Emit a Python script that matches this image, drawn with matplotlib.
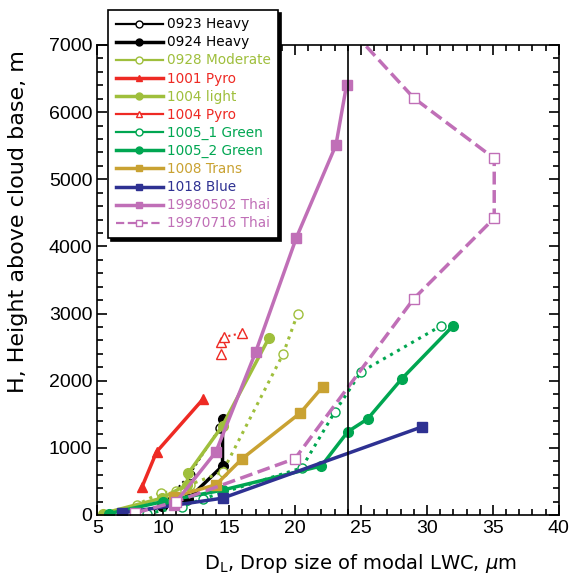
import numpy as np
import matplotlib
matplotlib.use("Agg")
import matplotlib.pyplot as plt
from matplotlib.ticker import MultipleLocator
from matplotlib.lines import Line2D

plt.rcParams['font.family'] = ['Liberation Sans', 'DejaVu Sans']
plt.rcParams['mathtext.fontset'] = 'dejavusans'

# data: drop size (um) vs height above cloud base (m)
x_0923 = [9.0, 10.0, 12.0, 14.3]
y_0923 = [50, 150, 600, 1300]
x_0924 = [9.9, 11.9, 14.5, 14.5]
y_0924 = [130, 240, 730, 1430]
x_0928 = [5.5, 8.0, 9.8, 11.0, 12.0, 14.5, 19.1, 20.2]
y_0928 = [0, 150, 330, 350, 450, 640, 2400, 3000]
x_1001 = [8.4, 9.5, 13.0]
y_1001 = [420, 940, 1720]
x_1004l = [5.4, 9.9, 11.8, 11.9, 14.5, 18.0]
y_1004l = [20, 250, 450, 620, 1330, 2630]
x_1004p = [14.4, 14.4, 14.6, 16.0]
y_1004p = [2400, 2580, 2650, 2710]
x_1005a = [8.8, 11.4, 13.0, 20.5, 23.0, 25.0, 31.1]
y_1005a = [20, 120, 240, 700, 1530, 2130, 2820]
x_1005b = [5.9, 10.0, 14.5, 22.0, 24.0, 25.5, 28.1, 32.0]
y_1005b = [20, 200, 370, 730, 1240, 1430, 2030, 2820]
x_1008 = [10.8, 14.0, 16.0, 20.4, 22.1]
y_1008 = [270, 450, 840, 1520, 1910]
x_1018 = [6.9, 14.5, 29.6]
y_1018 = [30, 250, 1310]
x_thai98 = [10.8, 14.0, 17.0, 20.1, 23.1, 23.9]
y_thai98 = [150, 940, 2420, 4130, 5510, 6400]
x_thai97 = [7.9, 11.0, 20.0, 29.0, 35.1, 35.1, 29.0, 24.6]
y_thai97 = [30, 200, 840, 3220, 4420, 5310, 6210, 7150]

k = 'black'
yg = '#9fbf3c'
red = '#ee2a24'
grn = '#00a651'
gold = '#c9a232'
navy = '#2e3192'
orch = '#c06fb7'

# (x, y, label, color, linestyle, lw, marker, filled)
series = [
    (x_0923, y_0923, '0923 Heavy', k, ':', 1.5, 'o', False),
    (x_0924, y_0924, '0924 Heavy', k, '-', 2.5, 'o', True),
    (x_0928, y_0928, '0928 Moderate', yg, ':', 2.2, 'o', False),
    (x_1001, y_1001, '1001 Pyro', red, '-', 2.5, '^', True),
    (x_1004l, y_1004l, '1004 light', yg, '-', 2.5, 'o', True),
    (x_1004p, y_1004p, '1004 Pyro', red, ':', 1.5, '^', False),
    (x_1005a, y_1005a, '1005_1 Green', grn, ':', 2.2, 'o', False),
    (x_1005b, y_1005b, '1005_2 Green', grn, '-', 2.5, 'o', True),
    (x_1008, y_1008, '1008 Trans', gold, '-', 2.5, 's', True),
    (x_1018, y_1018, '1018 Blue', navy, '-', 2.5, 's', True),
    (x_thai98, y_thai98, '19980502 Thai', orch, '-', 2.5, 's', True),
    (x_thai97, y_thai97, '19970716 Thai', orch, '--', 2.5, 's', False),
]

fig = plt.figure(figsize=(5.72, 5.76), dpi=100)
ax = fig.add_axes([0.170, 0.106, 0.807, 0.816])

handles = []
for x, y, lab, c, ls, lw, m, filled in series:
    mfc = c if filled else 'white'
    ax.plot(x, y, ls, color=c, lw=lw, marker=m, mfc=mfc, ms=7 if filled else 6.5)
    hls = '--' if ls == '--' else '-'
    handles.append(Line2D([], [], color=c, ls=hls, lw=lw if ls == '-' else 1.6,
                          marker=m, mfc=mfc, ms=5, label=lab))

ax.axvline(24, color='black', lw=1.2)

ax.set_xlim(5, 40)
ax.set_ylim(0, 7000)
ax.xaxis.set_major_locator(MultipleLocator(5))
ax.xaxis.set_minor_locator(MultipleLocator(1))
ax.yaxis.set_major_locator(MultipleLocator(1000))
ax.yaxis.set_minor_locator(MultipleLocator(200))
ax.tick_params(which='both', direction='in', top=True, right=True, labelsize=14, width=1.2)
ax.tick_params(which='major', length=7)
ax.tick_params(which='minor', length=4)
for s in ax.spines.values():
    s.set_linewidth(1.2)

ax.set_xlabel(r'D$_\mathregular{L}$, Drop size of modal LWC, $\mu$m', fontsize=14,
              family='DejaVu Sans')
ax.set_ylabel('H, Height above cloud base, m', fontsize=16, family='DejaVu Sans')
ax.xaxis.set_label_coords(0.571, -0.078)
ax.yaxis.set_label_coords(-0.149, 0.625)

leg = ax.legend(handles=handles, loc='upper left', bbox_to_anchor=(0.189, 0.983),
                bbox_transform=fig.transFigure, borderaxespad=0,
                prop={'family': 'DejaVu Sans', 'size': 9.8}, labelcolor='linecolor',
                handlelength=3.45, handletextpad=0.3,
                labelspacing=0.3, borderpad=0.55, fancybox=False, framealpha=1,
                shadow={'color': 'black', 'alpha': 1})
leg.get_frame().set_edgecolor('black')
leg.get_frame().set_linewidth(1.2)

fig.savefig('out.png', dpi=100)
